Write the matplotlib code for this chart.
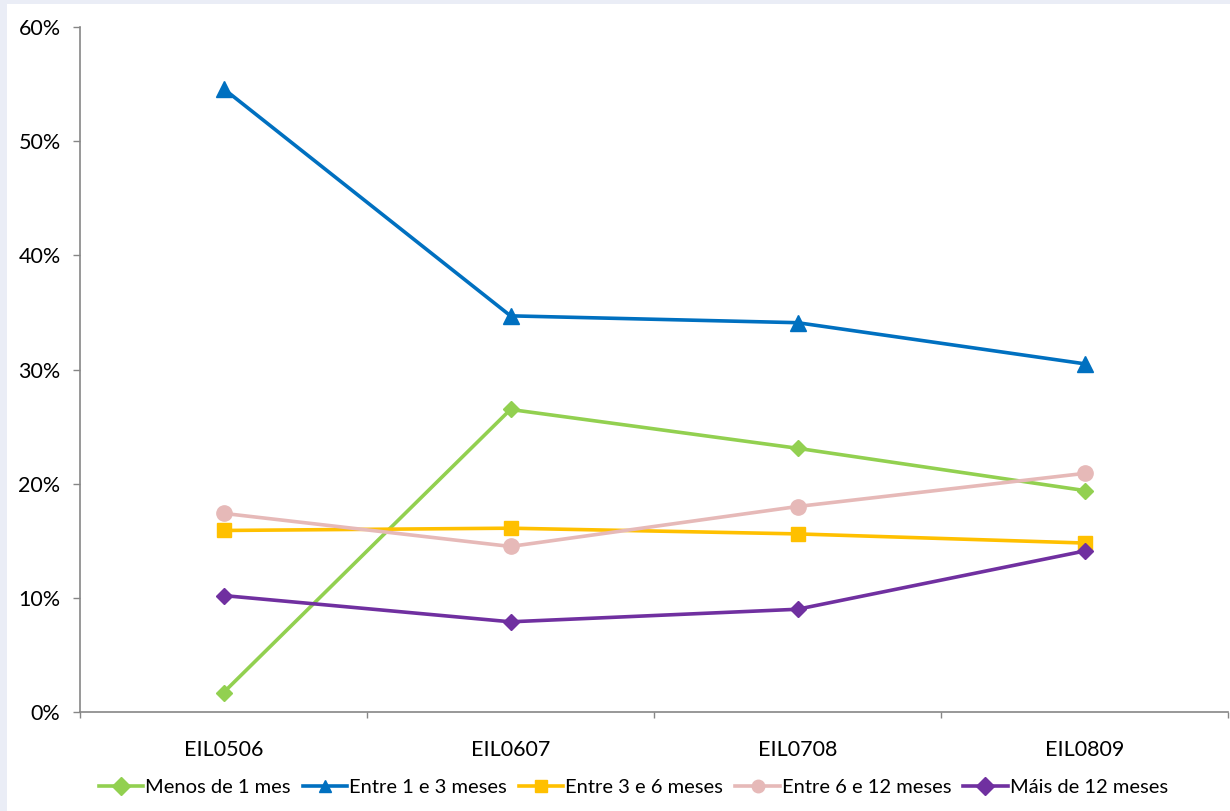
import matplotlib
matplotlib.use("Agg")
import matplotlib.pyplot as plt
from matplotlib.patches import Rectangle
from matplotlib.ticker import FuncFormatter

categories = ["EIL0506", "EIL0607", "EIL0708", "EIL0809"]
series_names = ["Menos de 1 mes", "Entre 1 e 3 meses", "Entre 3 e 6 meses",
                "Entre 6 e 12 meses", "Máis de 12 meses"]
menos_1 = [1.7, 26.5, 23.1, 19.4]
entre_1_3 = [54.6, 34.7, 34.1, 30.5]
entre_3_6 = [15.9, 16.1, 15.6, 14.8]
entre_6_12 = [17.4, 14.5, 18.0, 20.9]
mais_12 = [10.2, 7.9, 9.0, 14.1]

values = [menos_1, entre_1_3, entre_3_6, entre_6_12, mais_12]
colors = ["#92D050", "#0070C0", "#FFC000", "#E6B9B8", "#7030A0"]
markers = ["D", "^", "s", "o", "D"]
msizes = [8, 11, 10, 11, 8]

plt.rcParams['font.family'] = ['Lato', 'DejaVu Sans']

fig = plt.figure(figsize=(12.3, 8.11), dpi=100)
fig.patch.set_facecolor("#EAEDF6")
fig.patches.append(Rectangle((7/1230, 0), 1 - 7/1230, 1 - 4/811, transform=fig.transFigure,
                             facecolor="white", edgecolor="none", zorder=-10))

ax = fig.add_axes([80/1230, 1 - 712/811, (1228 - 80)/1230, (712 - 27)/811])
ax.set_zorder(2)
ax.set_facecolor("none")
x = list(range(len(categories)))
for v, c, m, ms, name in zip(values, colors, markers, msizes, series_names):
    ax.plot(x, v, color=c, marker=m, markersize=ms, linewidth=2.6, label=name,
            markeredgecolor=c, clip_on=False)

ax.set_xlim(-0.5, len(categories) - 0.5)
ax.set_ylim(0, 60)
ax.set_yticks(range(0, 61, 10))
ax.yaxis.set_major_formatter(FuncFormatter(lambda v, p: f"{int(v)}%"))
ax.set_xticks(x)
ax.set_xticklabels(categories)
ax.set_xticks([i - 0.5 for i in range(len(categories) + 1)], minor=True)
ax.tick_params(axis="x", which="major", length=0, pad=20, labelsize=15.5)
ax.tick_params(axis="x", which="minor", length=4.5, color="#868686", width=1)
ax.tick_params(axis="y", length=5, color="#868686", width=1, labelsize=15.5, pad=9)
for s in ["top", "right"]:
    ax.spines[s].set_visible(False)
for s in ["left", "bottom"]:
    ax.spines[s].set_color("#868686")
    ax.spines[s].set_linewidth(1.2)

leg = fig.legend(loc="center", bbox_to_anchor=(0.515, 1 - 787/811), ncol=5, frameon=False,
                 fontsize=14.5, handlelength=2.2, handletextpad=0.1, columnspacing=0.6,
                 borderaxespad=0)
for h in leg.legend_handles:
    h.set_markersize(9)

fig.savefig("out.png", dpi=100, facecolor=fig.get_facecolor())
